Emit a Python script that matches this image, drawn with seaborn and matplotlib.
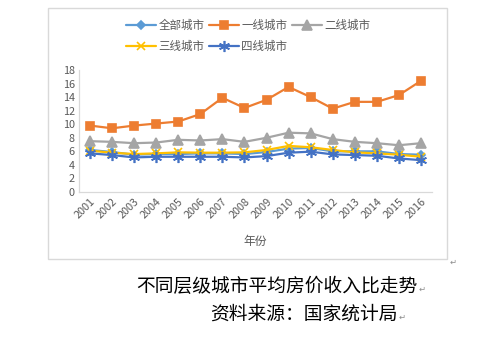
import matplotlib
matplotlib.use("Agg")
import matplotlib.pyplot as plt
from matplotlib.patches import Rectangle
import seaborn as sns
import pandas as pd

years = [str(y) for y in range(2001, 2017)]
series_names = ["全部城市", "一线城市", "二线城市", "三线城市", "四线城市"]
all_cities = [6.2, 5.9, 5.5, 5.6, 5.6, 5.7, 5.7, 5.6, 5.9, 6.4, 6.5, 6.0, 6.0, 6.0, 5.6, 5.5]
tier1 = [9.8, 9.4, 9.8, 10.1, 10.4, 11.5, 13.9, 12.4, 13.6, 15.5, 14.0, 12.3, 13.3, 13.3, 14.3, 16.4]
tier2 = [7.5, 7.4, 7.2, 7.3, 7.7, 7.6, 7.8, 7.4, 8.0, 8.75, 8.65, 7.8, 7.4, 7.2, 6.9, 7.2]
tier3 = [6.1, 5.8, 5.6, 5.7, 5.85, 5.8, 5.8, 5.85, 6.2, 6.8, 6.6, 6.2, 5.85, 5.7, 5.5, 5.2]
tier4 = [5.7, 5.45, 5.1, 5.2, 5.2, 5.2, 5.2, 5.1, 5.3, 5.8, 5.95, 5.55, 5.45, 5.35, 4.95, 4.7]
yticks = list(range(0, 19, 2))
caption = "不同层级城市平均房价收入比走势"
source = "资料来源：国家统计局"
xlabel = "年份"

colors = ["#5B9BD5", "#ED7D31", "#A5A5A5", "#FFC000", "#4472C4"]
markers = ["D", "s", "^", "x", (6, 2, 0)]
msizes = [4, 6, 6.5, 6, 8]

sns.set_theme(style="white")
plt.rcParams["font.family"] = ["Noto Sans CJK SC", "DejaVu Sans"]

df = pd.DataFrame({"year": years})
for name, vals in zip(series_names, [all_cities, tier1, tier2, tier3, tier4]):
    df[name] = vals
long = df.melt(id_vars="year", var_name="series", value_name="ratio")

fig = plt.figure(figsize=(4.94, 3.38), dpi=100)
fig.patches.append(Rectangle((48 / 494, 1 - 259 / 338), 399 / 494, 251 / 338,
                             transform=fig.transFigure, fill=False,
                             edgecolor="#d9d9d9", linewidth=1.0))

ax = fig.add_axes([79 / 494, 1 - 192 / 338, 353 / 494, 122 / 338])
for i, name in enumerate(series_names):
    sub = long[long["series"] == name]
    sns.lineplot(data=sub, x="year", y="ratio", ax=ax, color=colors[i],
                 marker=markers[i], markersize=msizes[i], linewidth=1.6,
                 markeredgecolor=colors[i], markeredgewidth=1.2,
                 sort=False, label=name, legend=False)
handles = ax.get_lines()

ax.set_xlim(-0.5, len(years) - 0.5)
ax.set_ylim(0, 18)
ax.set_yticks(yticks)
ax.set_yticklabels([str(t) for t in yticks])
ax.set_xlabel("")
ax.set_ylabel("")
for s in ["top", "right"]:
    ax.spines[s].set_visible(False)
for s in ["left", "bottom"]:
    ax.spines[s].set_color("#d9d9d9")
    ax.spines[s].set_linewidth(0.9)
ax.tick_params(axis="both", length=0, labelsize=7.8, labelcolor="#595959", pad=3)
plt.setp(ax.get_xticklabels(), rotation=45, ha="right", va="top",
         rotation_mode="anchor")

fig.text(255 / 494, 1 - 241 / 338, xlabel, ha="center", va="center",
         fontsize=8.5, color="#595959")

order = [0, 3, 1, 4, 2]
leg = fig.legend([handles[i] for i in order], [series_names[i] for i in order],
                 loc="center", bbox_to_anchor=(248 / 494, 1 - 36 / 338), ncol=3,
                 frameon=False, fontsize=8.3, handlelength=2.6, handletextpad=0.2,
                 columnspacing=0.4, labelspacing=0.75, labelcolor="#595959")

t1 = fig.text(136 / 494, 1 - 286 / 338, caption, ha="left", va="center",
              fontsize=13.5, color="#000000")
t2 = fig.text(210 / 494, 1 - 314 / 338, source, ha="left", va="center",
              fontsize=13.5, color="#000000")

# paragraph marks right after each caption line and below the frame corner
renderer = fig.canvas.get_renderer()
marks = []
for t in (t1, t2):
    bb = t.get_window_extent(renderer)
    marks.append((bb.x1 + 1, bb.y0 + 0.35 * bb.height))
marks.append((450, 338 - 262))
for (x, y) in marks:
    fig.text(x / 494, y / 338, "↵", ha="left", va="center",
             fontsize=6, color="#8c8c8c", family=["DejaVu Sans"])

fig.savefig("out.png", dpi=100)
